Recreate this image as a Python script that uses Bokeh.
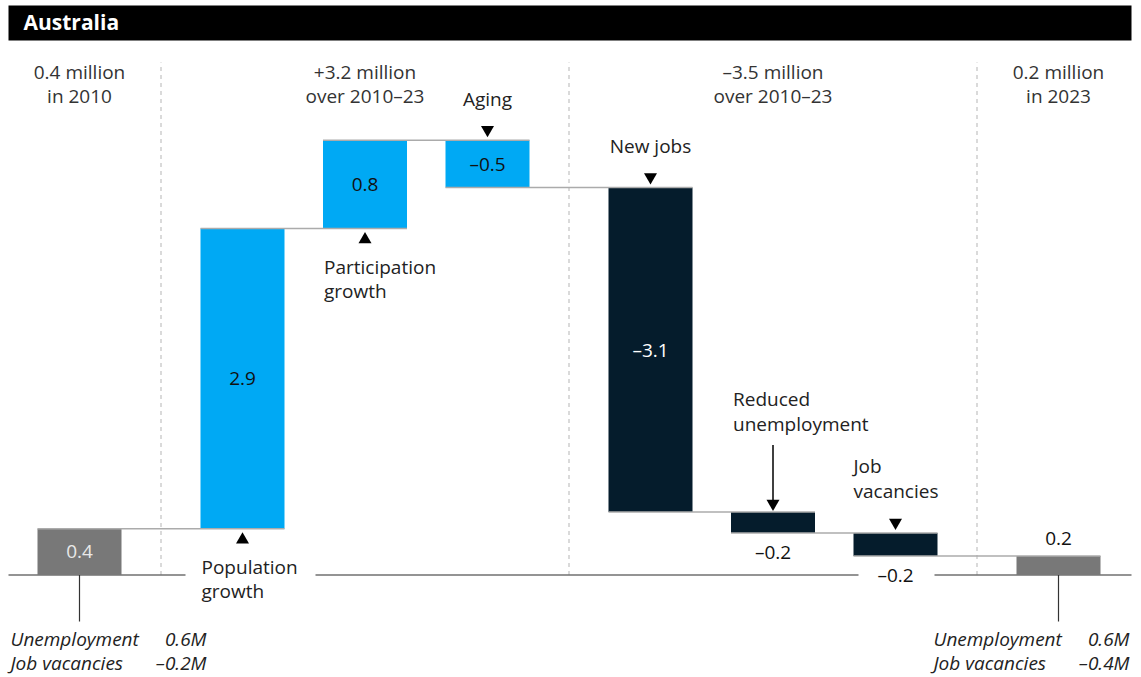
from bokeh.plotting import figure
from bokeh.models import Range1d
from bokeh.core.properties import value
from bokeh.embed import file_html
from bokeh.resources import INLINE

# ---------------- data ----------------
title_text = "Australia"
categories = ["2010", "Population growth", "Participation growth", "Aging",
              "New jobs", "Reduced unemployment", "Job vacancies", "2023"]
start_value = 0.44                      # million, 2010
changes = [2.86, 0.84, -0.45, -3.09, -0.20, -0.22]   # million
value_labels = ["0.4", "2.9", "0.8", "–0.5", "–3.1", "–0.2", "–0.2", "0.2"]
groups = [0, 1, 1, 1, 2, 2, 2, 3]
bar_kinds = ["total", "supply", "supply", "supply", "demand", "demand", "demand", "total"]
group_headers = [["0.4 million", "in 2010"],
                 ["+3.2 million", "over 2010–23"],
                 ["–3.5 million", "over 2010–23"],
                 ["0.2 million", "in 2023"]]
category_lines = {1: ["Population", "growth"],
                  2: ["Participation", "growth"],
                  3: ["Aging"],
                  4: ["New jobs"],
                  5: ["Reduced", "unemployment"],
                  6: ["Job", "vacancies"]}
note_labels = ["Unemployment", "Job vacancies"]
notes_2010 = ["0.6M", "–0.2M"]
notes_2023 = ["0.6M", "–0.4M"]

# ---------------- layout / style ----------------
W, H = 1141, 677
SLOT_PX = 122.5          # distance between neighbouring bars
X0_PX = 79               # centre of first bar
GROUP_GAP = 40.5 / SLOT_PX
BAR_W = 84 / SLOT_PX
PX_PER_M = 105.0
Y0_PX = 574.5            # zero line
BASE_FIX = 8             # renderer places alphabetic baselines this much lower

def px_x(px):
    return (px - X0_PX) / SLOT_PX

def px_y(py):
    return (Y0_PX - py) / PX_PER_M

def dy(px):
    return px / PX_PER_M

FONT = value("Open Sans")
TXT = "#222222"
COLORS = {"total": "#787878", "supply": "#00A9F4", "demand": "#051C2C"}


def label(p, x, y, txt, align="left", size="19px", color=TXT, style="normal"):
    """Alphabetic-baseline text at data x, y."""
    p.text(x=[x], y=[y + dy(BASE_FIX)], text=[txt], text_font=FONT,
           text_font_size=size, text_color=color, text_align=align,
           text_baseline="alphabetic", text_font_style=style)


# ---------------- computations ----------------
cum = [start_value]
for c in changes:
    cum.append(cum[-1] + c)
end_value = cum[-1]
n = len(categories)
xpos = [i + groups[i] * GROUP_GAP for i in range(n)]
bottoms = [0.0] + [min(cum[i], cum[i + 1]) for i in range(len(changes))] + [0.0]
tops = [start_value] + [max(cum[i], cum[i + 1]) for i in range(len(changes))] + [end_value]
lefts = [x - BAR_W / 2 for x in xpos]
rights = [x + BAR_W / 2 for x in xpos]

p = figure(width=W, height=H,
           x_range=Range1d(px_x(0), px_x(W)),
           y_range=Range1d(px_y(H), px_y(0)),
           output_backend="svg", toolbar_location=None,
           x_axis_type=None, y_axis_type=None,
           min_border=0, outline_line_color=None)
p.background_fill_color = "white"
p.border_fill_color = "white"

# title bar
p.quad(left=px_x(8), right=px_x(1131), top=px_y(5), bottom=px_y(40),
       fill_color="black", line_color=None)
label(p, px_x(23), px_y(29), title_text, size="21px", color="white", style="bold")

# group dividers
div_x = []
for i in range(n - 1):
    if groups[i] != groups[i + 1]:
        div_x.append((xpos[i] + xpos[i + 1]) / 2)
p.segment(x0=div_x, x1=div_x, y0=[0] * len(div_x), y1=[px_y(62)] * len(div_x),
          line_color="#b5b5b5", line_width=1, line_dash="4 4")

# group headers
for g, lines in enumerate(group_headers):
    members = [xpos[i] for i in range(n) if groups[i] == g]
    cx = sum(members) / len(members)
    for k, line in enumerate(lines):
        label(p, cx, px_y(79 + 24.5 * k), line, align="center", color="#333333")

# zero line (with gaps for labels)
for a, b in [(8, 185), (315, 858), (934, 1131)]:
    p.line(x=[px_x(a), px_x(b)], y=[0, 0], line_color="#707070", line_width=1.5)

# bars
p.quad(left=lefts, right=rights, bottom=bottoms, top=tops,
       fill_color=[COLORS[k] for k in bar_kinds], line_color=None)

# connectors
for i in range(n - 1):
    p.line(x=[lefts[i], rights[i + 1]], y=[cum[i], cum[i]],
           line_color="#ababab", line_width=1.5)

# value labels
for i in range(n):
    if i in (5, 6):
        ty = bottoms[i] - dy(19)
    elif i == n - 1:
        ty = tops[i] + dy(18)
    else:
        ty = (tops[i] + bottoms[i]) / 2
    col = {0: "#e8e8e8", 4: "white"}.get(i, "#111111")
    p.text(x=[xpos[i]], y=[ty], text=[value_labels[i]], text_font=FONT,
           text_font_size="19px", text_color=col, text_align="center",
           text_baseline="middle")

# category labels + markers
for i, lines in category_lines.items():
    if bar_kinds[i] == "supply" and changes[i - 1] > 0:
        # below the bar, upward triangle
        p.scatter(x=[xpos[i]], y=[bottoms[i] - dy(10.9)], marker="triangle",
                  size=13, fill_color="black", line_color=None)
        for k, line in enumerate(lines):
            label(p, lefts[i] + 1 / SLOT_PX, bottoms[i] - dy(46 + 24.5 * k), line)
    elif i == 5:
        p.segment(x0=[xpos[i]], x1=[xpos[i]], y0=[tops[i] + dy(67)],
                  y1=[tops[i] + dy(10)], line_color="black", line_width=1.5)
        p.scatter(x=[xpos[i]], y=[tops[i] + dy(8.5)], marker="inverted_triangle",
                  size=13, fill_color="black", line_color=None)
        for k, line in enumerate(lines):
            label(p, lefts[i] + 2 / SLOT_PX, tops[i] + dy(105 - 24.5 * k), line)
    else:
        p.scatter(x=[xpos[i]], y=[tops[i] + dy(10.5)], marker="inverted_triangle",
                  size=13, fill_color="black", line_color=None)
        if len(lines) == 1:
            label(p, xpos[i], tops[i] + dy(33.5), lines[0], align="center")
        else:
            for k, line in enumerate(lines):
                label(p, lefts[i], tops[i] + dy(59 - 24.5 * k), line)

# stems and notes for start / end totals
for idx, vals, lx, rx in [(0, notes_2010, 10, 206), (n - 1, notes_2023, 933, 1129)]:
    p.segment(x0=[xpos[idx]], x1=[xpos[idx]], y0=[0], y1=[px_y(621)],
              line_color="#333333", line_width=1.2)
    for k in range(len(note_labels)):
        label(p, px_x(lx), px_y(646 + 24 * k), note_labels[k], size="19px", style="italic")
        label(p, px_x(rx), px_y(646 + 24 * k), vals[k], align="right", size="19px", style="italic")

open("out.html", "w").write(file_html(p, INLINE))
